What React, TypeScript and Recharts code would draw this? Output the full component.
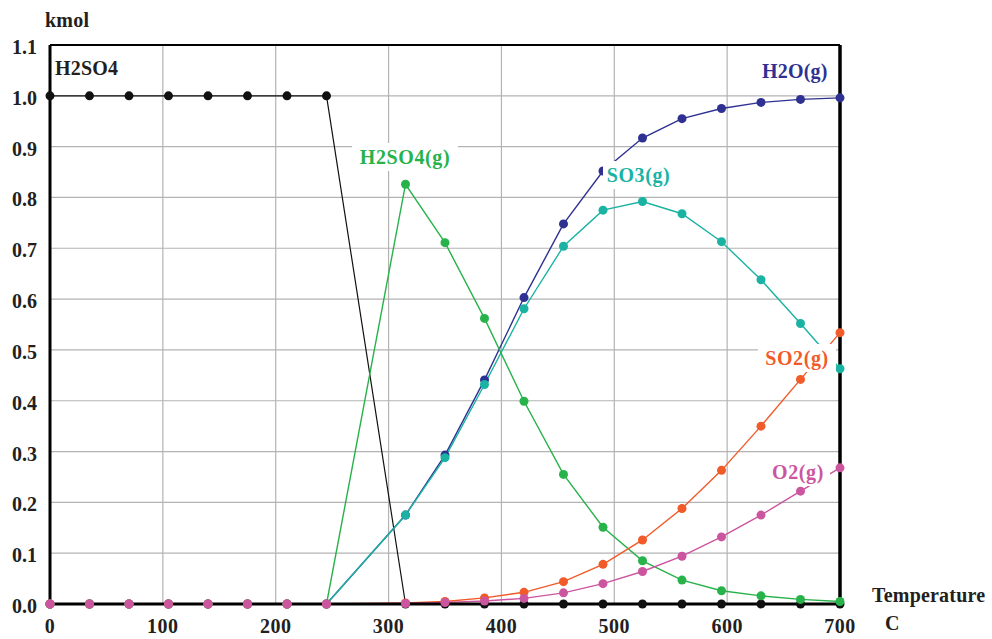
import { LineChart, Line, XAxis, YAxis, CartesianGrid, ReferenceLine } from 'recharts';

// temperature points, C
const temps = [0, 35, 70, 105, 140, 175, 210, 245, 315, 350, 385, 420, 455, 490, 525, 560, 595, 630, 665, 700];

// kmol
const h2so4 = [1, 1, 1, 1, 1, 1, 1, 1, 0, 0, 0, 0, 0, 0, 0, 0, 0, 0, 0, 0];
const h2o = [0, 0, 0, 0, 0, 0, 0, 0, 0.175, 0.293, 0.441, 0.603, 0.748, 0.852, 0.917, 0.955, 0.975, 0.987, 0.993, 0.996];
const so3 = [0, 0, 0, 0, 0, 0, 0, 0, 0.175, 0.288, 0.432, 0.581, 0.704, 0.775, 0.792, 0.768, 0.713, 0.638, 0.552, 0.463];
const h2so4g = [0, 0, 0, 0, 0, 0, 0, 0, 0.826, 0.711, 0.562, 0.399, 0.255, 0.151, 0.085, 0.047, 0.026, 0.016, 0.009, 0.005];
const so2 = [0, 0, 0, 0, 0, 0, 0, 0, 0.002, 0.005, 0.012, 0.023, 0.044, 0.078, 0.126, 0.188, 0.263, 0.35, 0.442, 0.534];
const o2 = [0, 0, 0, 0, 0, 0, 0, 0, 0.001, 0.003, 0.006, 0.011, 0.022, 0.04, 0.064, 0.094, 0.132, 0.175, 0.222, 0.268];

const xTicks = [0, 100, 200, 300, 400, 500, 600, 700];
const yTicks = [0, 0.1, 0.2, 0.3, 0.4, 0.5, 0.6, 0.7, 0.8, 0.9, 1.0, 1.1];

const data = temps.map((t, i) => ({
  t,
  h2so4: h2so4[i],
  h2o: h2o[i],
  so3: so3[i],
  h2so4g: h2so4g[i],
  so2: so2[i],
  o2: o2[i],
}));

const font = '"Liberation Serif", "Times New Roman", serif';
const NAVY = '#2e3192';
const TEAL = '#1ab3a3';
const GREEN = '#27b24a';
const ORANGE = '#f15a29';
const PINK = '#cc559f';

const XTick = (props: any) => (
  <text x={props.x} y={props.y + 27} textAnchor="middle" fontFamily={font} fontWeight="bold" fontSize={20} letterSpacing={0.5} fill="#231f20">
    {props.payload.value}
  </text>
);

const YTick = (props: any) => (
  <text x={props.x} y={props.y + 9} textAnchor="end" fontFamily={font} fontWeight="bold" fontSize={20} fill="#231f20">
    {Number(props.payload.value).toFixed(1)}
  </text>
);

const Label = ({ x, y, w, h, color, text }: any) => (
  <div
    style={{
      position: 'absolute',
      left: x,
      top: y,
      width: w,
      height: h,
      background: '#fff',
      color,
      fontFamily: font,
      fontWeight: 'bold',
      fontSize: 20,
      letterSpacing: 0.6,
      lineHeight: h + 'px',
      textAlign: 'center',
      whiteSpace: 'nowrap',
    }}
  >
    {text}
  </div>
);

const Plain = ({ x, y, color, text }: any) => (
  <div
    style={{
      position: 'absolute',
      left: x,
      top: y,
      color,
      fontFamily: font,
      fontWeight: 'bold',
      fontSize: 20,
      letterSpacing: 0.2,
      lineHeight: '22px',
      whiteSpace: 'nowrap',
    }}
  >
    {text}
  </div>
);

const dot = (c: string) => ({ r: 4.5, fill: c, stroke: c, strokeWidth: 0 });

export default function App() {
  return (
    <div style={{ position: 'absolute', left: 0, top: 0, width: 992, height: 639, background: '#fff' }}>
      <LineChart width={992} height={639} data={data} margin={{ top: 45, right: 152, left: 0, bottom: 0 }}>
        <CartesianGrid stroke="#b3b3b3" strokeWidth={1.2} />
        <XAxis
          dataKey="t"
          type="number"
          domain={[0, 700]}
          ticks={xTicks}
          height={35}
          tickLine={false}
          tickSize={0}
          axisLine={{ stroke: '#000', strokeWidth: 3 }}
          tick={<XTick />}
          interval={0}
        />
        <YAxis
          type="number"
          domain={[0, 1.1]}
          ticks={yTicks}
          width={50}
          tickLine={false}
          tickSize={0}
          tickMargin={13}
          axisLine={{ stroke: '#000', strokeWidth: 3 }}
          tick={<YTick />}
          interval={0}
        />
        <ReferenceLine y={1.1} stroke="#000" strokeWidth={2} />
        <ReferenceLine x={700} stroke="#000" strokeWidth={3.5} />
        <Line dataKey="h2so4" stroke="#111" strokeWidth={1.2} dot={dot('#111')} isAnimationActive={false} />
        <Line dataKey="h2o" stroke={NAVY} strokeWidth={1.4} dot={dot(NAVY)} isAnimationActive={false} />
        <Line dataKey="so3" stroke={TEAL} strokeWidth={1.4} dot={dot(TEAL)} isAnimationActive={false} />
        <Line dataKey="h2so4g" stroke={GREEN} strokeWidth={1.4} dot={dot(GREEN)} isAnimationActive={false} />
        <Line dataKey="so2" stroke={ORANGE} strokeWidth={1.4} dot={dot(ORANGE)} isAnimationActive={false} />
        <Line dataKey="o2" stroke={PINK} strokeWidth={1.4} dot={dot(PINK)} isAnimationActive={false} />
      </LineChart>
      <Plain x={45} y={9} color="#231f20" text="kmol" />
      <Plain x={55} y={57} color="#231f20" text="H2SO4" />
      <Plain x={762} y={60} color={NAVY} text="H2O(g)" />
      <Label x={352} y={143} w={106} h={28} color={GREEN} text="H2SO4(g)" />
      <Label x={603} y={161} w={71} h={28} color={TEAL} text="SO3(g)" />
      <Label x={758} y={344} w={78} h={28} color={ORANGE} text="SO2(g)" />
      <Label x={766} y={459} w={64} h={27} color={PINK} text="O2(g)" />
      <Plain x={872} y={584} color="#231f20" text="Temperature" />
      <Plain x={885} y={612} color="#231f20" text="C" />
    </div>
  );
}
